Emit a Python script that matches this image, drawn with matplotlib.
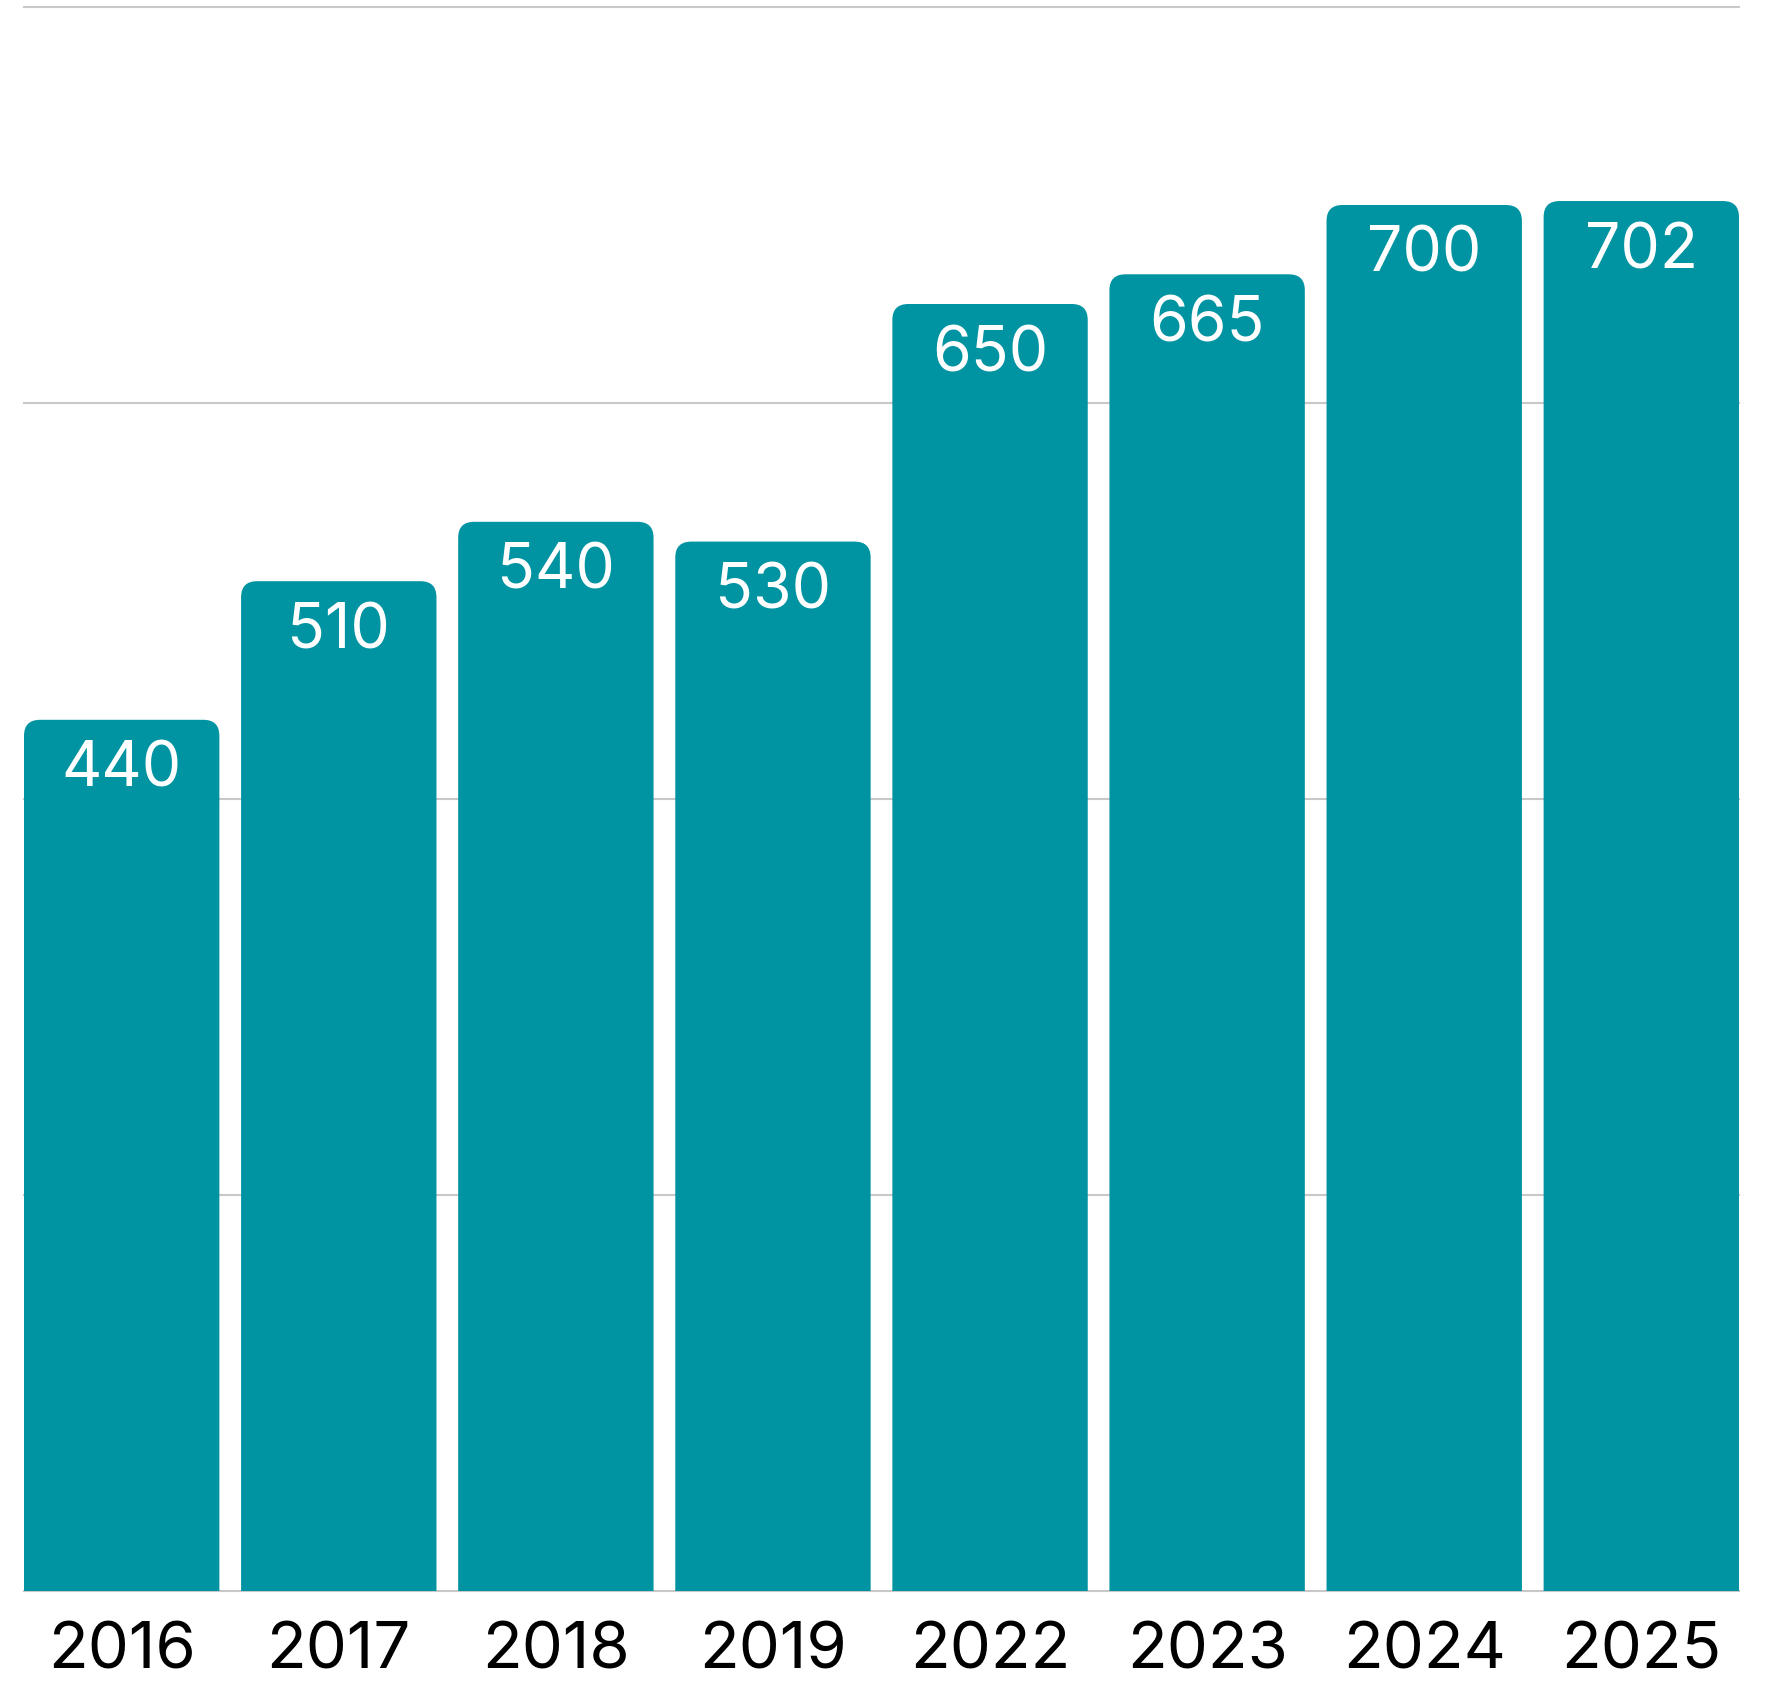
#!/usr/bin/env python3

from matplotlib import pyplot as plt
from matplotlib.patches import FancyBboxPatch
import numpy as np

years = ['2016', '2017', '2018', '2019', '2022', '2023', '2024', '2025']
values = [440, 510, 540, 530, 650, 665, 700, 702]

barColor = '#0093a2'
gridColor = '#c8c8c8'

plt.rcParams['font.family'] = ['Inter', 'DejaVu Sans']

W, H, DPI = 1774, 1706, 100
fig = plt.figure(figsize=(W/DPI, H/DPI), dpi=DPI)
ax = fig.add_axes([24/W, (H-1592)/H, (1739-24)/W, (1592-8)/H])

xpos = np.arange(len(years))
barWidth = 0.9
ax.set_xlim(-barWidth/2, len(years)-1+barWidth/2)
ax.set_ylim(0, 800)

# gridlines
for yv in range(0, 801, 200):
    ax.axhline(yv, color=gridColor, linewidth=1.5, zorder=0, clip_on=False)

# pixel sizes of one data unit, used to get round corners right
axW = (1739-24)
axH = (1592-8)
pxX = axW/(ax.get_xlim()[1]-ax.get_xlim()[0])
pxY = axH/800.0
radiusPx = 16
rx = radiusPx/pxX
aspect = (radiusPx/pxY)/rx
below = 2*radiusPx/pxY   # push the lower round corners under the axis

bars = ax.bar(xpos, values, width=barWidth, color=barColor, zorder=2)
for b in bars:
    b.set_visible(False)
    x0, w, h = b.get_x(), b.get_width(), b.get_height()
    top = FancyBboxPatch((x0, -below), w, h+below,
                         boxstyle='round,pad=0,rounding_size=%f' % rx,
                         mutation_aspect=aspect,
                         facecolor=barColor, edgecolor='none', zorder=2)
    ax.add_patch(top)
    ax.annotate(str(int(h)), (x0+w/2, h), xytext=(0, -20),
                textcoords='offset pixels', ha='center', va='top',
                color='white', fontsize=45)

ax.set_xticks(xpos)
ax.set_xticklabels(years, fontsize=47, color='black')
ax.tick_params(axis='x', length=0, pad=21)
ax.set_yticks([])
for s in ax.spines.values():
    s.set_visible(False)

fig.savefig('out.png', dpi=DPI, facecolor='white')
